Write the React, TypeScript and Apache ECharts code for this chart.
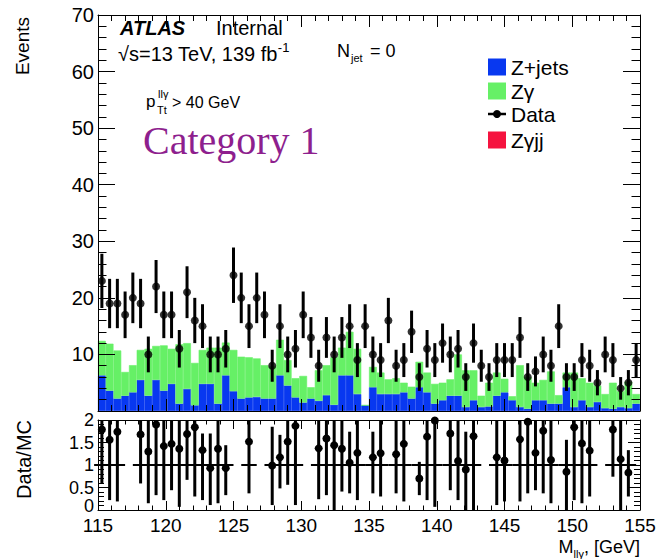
import React, { useEffect, useRef } from "react";
import * as echarts from "echarts";

// ---- axis range (GeV) ----
const X_MIN = 115;
const X_MAX = 155;
const xTickStep = 5;

// ---- upper panel: events per bin (70 bins) ----
const dataCounts = [
  23, 19, 19, 17, 20, 19, 10, 22, 17, 17,
  11, 21, 16, 15, 10, 10, 11, 24, 20, 15,
  20, 17, 8, 15, 10, 11, 17, 13, 8, 13,
  10, 13, 15, 9, 15, 10, 9, 16, 8, 9,
  14, 6, 11, 9, 12, 10, 11, 6, 12, 8,
  6, 9, 9, 9, 13, 6, 7, 10, 8, 15,
  6, 6, 9, 8, 5, 10, 9, 4, 5, 9,
];

const zjets = [
  6.3, 3.6, 2.2, 2.7, 3.3, 5.5, 2.7, 5.5, 3.6, 4.8,
  1.3, 3.9, 1.0, 4.8, 4.8, 1.3, 6.3, 3.5, 2.2, 2.4,
  2.5, 2.2, 2.2, 6.3, 4.5, 2.4, 1.5, 2.2, 1.8, 2.8,
  1.1, 6.3, 6.3, 3.0, 1.0, 4.2, 3.0, 3.0, 3.0, 3.3,
  2.2, 4.2, 3.3, 1.3, 1.9, 2.7, 2.7, 0.7, 1.9, 0.7,
  0.8, 2.7, 3.3, 1.9, 0.7, 0.4, 1.9, 1.9, 1.3, 1.3,
  4.2, 0.7, 1.9, 0.7, 1.6, 0.5, 0.4, 0.7, 0.5, 1.3,
];

const zgamma = [
  6.1, 8.3, 8.5, 4.2, 4.8, 5.3, 8.3, 6.0, 8.0, 6.2,
  10.5, 8.1, 7.5, 6.0, 6.4, 9.9, 5.8, 7.3, 7.4, 7.1,
  6.8, 5.9, 5.7, 6.3, 4.5, 3.4, 4.7, 2.0, 5.4, 5.3,
  8.4, 4.9, 7.7, 8.0, 0.0, 3.6, 3.8, 2.6, 2.8, 1.7,
  2.1, 4.5, 3.5, 3.5, 3.1, 2.9, 7.3, 6.5, 5.3, 2.0,
  4.2, 4.1, 2.4, 0.7, 7.4, 5.6, 3.1, 3.6, 5.7, 1.5,
  2.6, 6.1, 3.9, 4.3, 2.9, 2.5, 4.6, 2.8, 4.7, 1.7,
];

// ---- lower panel: Data/MC (null = outside the visible range) ----
const ratio = [
  1.79, 1.56, 1.74, null, null, 1.68, 1.30, 1.90, 1.42, 1.47,
  1.36, 1.69, 1.84, 1.33, 0.93, 1.36, 0.93, null, null, 1.52,
  null, null, 0.99, 1.17, 1.52, 1.87, null, null, 1.37, 1.59,
  1.44, 1.36, 1.05, 1.27, null, 1.17, 1.26, null, 1.24, 1.47,
  null, 0.70, 1.63, 1.99, null, 1.70, 1.09, 0.90, 1.64, null,
  null, 1.17, 1.10, null, 1.57, 1.96, 1.27, 1.76, 1.11, null,
  0.85, 1.84, 1.48, 1.32, null, null, 1.79, 1.13, 0.83, null,
];
const ratioLow = [
  0.59, 0.22, 0.19, null, null, 0.59, 0.15, 0.33, 0.22, 0.44,
  0.07, 0.67, 0.30, 0.22, 0.11, 0.15, 0.33, null, null, 0.37,
  null, null, 0.11, 0.48, 0.56, 0.11, null, null, 0.24, 0.33,
  0, 0.41, 0.37, 0.22, null, 0.37, 0.30, null, 0.37, 0.19,
  null, 0.33, 0.22, 0.07, null, 0.44, 0.22, 0, 0, null,
  null, 0.11, 0.19, null, 0.19, 0.37, 0.44, 0.37, 0.15, null,
  0, 0.22, 0.15, 0.30, null, null, 0.74, 0, 0.30, null,
];
const ratioHigh = [
  2, 2, 2, null, null, 2, 2, 2, 2, 2,
  2, 2, 2, 1.70, 1.70, 2, 1.44, null, null, 2,
  null, null, 1.85, 1.67, 2, 2, null, null, 2, 2,
  2, 2, 1.74, 2, null, 1.74, 2, null, 2, 2,
  null, 1.07, 2, 2, null, 2, 2, 1.74, 2, null,
  null, 2, 2, null, 2, 2, 2, 2, 2, null,
  1.56, 2, 2, 2, null, null, 2, 2, 1.33, null,
];

const legendNames = ["Z+jets", "Zγ", "Data", "Zγjj"];

const C_ZJETS = "#0838f0";
const C_ZGAMMA = "#66f066";
const C_ZGJJ = "#f5133f";
const C_PURPLE = "#8e1f8e";
const FONT = "Liberation Sans";

export default function App() {
  const ref = useRef<HTMLDivElement>(null);

  useEffect(() => {
    const chart = echarts.init(ref.current!, null, { renderer: "svg" });
    const n = dataCounts.length;
    const w = (X_MAX - X_MIN) / n;
    const centers = dataCounts.map((_, i) => X_MIN + (i + 0.5) * w);
    const centerLabels = centers.map((c) => c.toFixed(2));

    const tickStyle = { color: "#000", width: 1 };
    const xAxisDef = (grid: number, pos: string, labels: boolean, len: number) => ({
      type: "value",
      gridIndex: grid,
      position: pos,
      min: X_MIN,
      max: X_MAX,
      interval: xTickStep,
      axisLine: { show: true, onZero: false, lineStyle: { color: "#000", width: 1 } },
      axisTick: { show: true, inside: true, length: len, lineStyle: tickStyle },
      minorTick: { show: true, splitNumber: 5, length: len / 2, lineStyle: tickStyle },
      splitLine: { show: false },
      minorSplitLine: { show: false },
      axisLabel: {
        show: labels,
        fontFamily: FONT,
        fontSize: 19,
        color: "#000",
        margin: 6,
      },
      z: 10,
    });
    const yAxisDef = (
      grid: number,
      pos: string,
      labels: boolean,
      min: number,
      max: number,
      interval: number,
      len: number,
      fontSize: number,
      fmt?: (v: number) => string
    ) => ({
      type: "value",
      gridIndex: grid,
      position: pos,
      min,
      max,
      interval,
      axisLine: { show: true, onZero: false, lineStyle: { color: "#000", width: 1 } },
      axisTick: { show: true, inside: true, length: len, lineStyle: tickStyle },
      minorTick: { show: true, splitNumber: 5, length: len / 2, lineStyle: tickStyle },
      splitLine: { show: false },
      minorSplitLine: { show: false },
      axisLabel: {
        show: labels,
        fontFamily: FONT,
        fontSize,
        color: "#000",
        margin: 4,
        formatter: fmt,
      },
      z: 10,
    });

    const dataErr = centers.map((c, i) => [
      c,
      dataCounts[i],
      dataCounts[i] - Math.sqrt(dataCounts[i]),
      dataCounts[i] + Math.sqrt(dataCounts[i]),
    ]);
    const ratioItems: number[][] = [];
    centers.forEach((c, i) => {
      if (ratio[i] !== null) {
        ratioItems.push([c, ratio[i] as number, ratioLow[i] as number, ratioHigh[i] as number]);
      }
    });

    const txt = (x: number, y: number, text: string, size: number, extra: any = {}) => ({
      type: "text",
      x,
      y,
      z: 100,
      ...(extra.rotation !== undefined ? { rotation: extra.rotation } : {}),
      style: {
        text,
        fill: extra.fill || "#000",
        fontFamily: extra.fontFamily || FONT,
        fontSize: size,
        fontWeight: extra.fontWeight || "normal",
        fontStyle: extra.fontStyle || "normal",
        align: extra.align || "left",
        textAlign: extra.align || "left",
        verticalAlign: "middle",
        textVerticalAlign: "middle",
        rich: extra.rich,
      },
    });

    const legendRows = [67, 91, 114, 140];
    const legendColors = [C_ZJETS, C_ZGAMMA, null, C_ZGJJ];
    const legendGraphics: any[] = [];
    legendNames.forEach((name, i) => {
      const cy = legendRows[i];
      const col = legendColors[i];
      if (col) {
        legendGraphics.push({
          type: "rect",
          z: 100,
          shape: { x: 488, y: cy - 8.5, width: 18, height: 17 },
          style: { fill: col },
        });
      } else {
        legendGraphics.push({
          type: "line",
          z: 100,
          shape: { x1: 488, y1: cy, x2: 506, y2: cy },
          style: { stroke: "#000", lineWidth: 2.5 },
        });
        legendGraphics.push({
          type: "circle",
          z: 101,
          shape: { cx: 497, cy, r: 4 },
          style: { fill: "#000" },
        });
      }
      legendGraphics.push(txt(511, cy, name, 21));
    });

    const option: any = {
      animation: false,
      backgroundColor: "#fff",
      grid: [
        { left: 98, top: 15, width: 542, height: 396 },
        { left: 98, top: 420, width: 542, height: 90 },
      ],
      xAxis: [
        xAxisDef(0, "bottom", false, 12),
        xAxisDef(0, "top", false, 12),
        xAxisDef(1, "bottom", true, 9),
        xAxisDef(1, "top", false, 9),
        {
          type: "category",
          gridIndex: 0,
          data: centerLabels,
          boundaryGap: true,
          show: false,
        },
      ],
      yAxis: [
        yAxisDef(0, "left", true, 0, 70, 10, 17, 20, (v: number) => (v === 0 ? "" : String(v))),
        yAxisDef(0, "right", false, 0, 70, 10, 17, 20),
        yAxisDef(1, "left", true, 0, 2, 0.5, 12, 18, (v: number) => (v === 0 ? "" : String(v))),
        yAxisDef(1, "right", false, 0, 2, 0.5, 12, 18),
      ],
      series: [
        {
          name: "Z+jets",
          type: "bar",
          xAxisIndex: 4,
          yAxisIndex: 0,
          stack: "mc",
          data: zjets,
          barCategoryGap: "0%",
          itemStyle: { color: C_ZJETS, borderColor: C_ZJETS, borderWidth: 0.6 },
          silent: true,
          z: 1,
        },
        {
          name: "Zγ",
          type: "bar",
          xAxisIndex: 4,
          yAxisIndex: 0,
          stack: "mc",
          data: zgamma,
          barCategoryGap: "0%",
          itemStyle: { color: C_ZGAMMA, borderColor: C_ZGAMMA, borderWidth: 0.6 },
          silent: true,
          z: 1,
        },
        {
          name: "DataErr",
          type: "custom",
          xAxisIndex: 0,
          yAxisIndex: 0,
          data: dataErr,
          encode: { x: 0, y: 1 },
          z: 3,
          renderItem: (params: any, api: any) => {
            const x = api.value(0);
            const p1 = api.coord([x, api.value(2)]);
            const p2 = api.coord([x, api.value(3)]);
            return {
              type: "line",
              shape: { x1: p1[0], y1: p1[1], x2: p2[0], y2: p2[1] },
              style: { stroke: "#000", lineWidth: 3 },
            };
          },
        },
        {
          name: "Data",
          type: "scatter",
          xAxisIndex: 0,
          yAxisIndex: 0,
          data: centers.map((c, i) => [c, dataCounts[i]]),
          symbol: "circle",
          symbolSize: 8,
          itemStyle: { color: "#000" },
          z: 4,
        },
        {
          name: "Ratio",
          type: "custom",
          xAxisIndex: 2,
          yAxisIndex: 2,
          data: ratioItems,
          encode: { x: 0, y: 1 },
          z: 4,
          renderItem: (params: any, api: any) => {
            const x = api.value(0);
            const pl = api.coord([x - w, 1]);
            const pr = api.coord([x + w, 1]);
            const pc = api.coord([x, api.value(1)]);
            const plo = api.coord([x, api.value(2)]);
            const phi = api.coord([x, api.value(3)]);
            return {
              type: "group",
              children: [
                {
                  type: "line",
                  shape: { x1: pl[0], y1: pl[1], x2: pr[0], y2: pr[1] },
                  style: { stroke: "#000", lineWidth: 2 },
                },
                {
                  type: "line",
                  shape: { x1: plo[0], y1: plo[1], x2: phi[0], y2: phi[1] },
                  style: { stroke: "#000", lineWidth: 3 },
                },
                {
                  type: "circle",
                  shape: { cx: pc[0], cy: pc[1], r: 4 },
                  style: { fill: "#000" },
                },
              ],
            };
          },
        },
      ],
      graphic: [
        txt(22, 17, "Events", 19, { rotation: Math.PI / 2, align: "right" }),
        txt(24, 420, "Data/MC", 20, { rotation: Math.PI / 2, align: "right" }),
        txt(94, 506, "0", 18, { align: "right" }),
        txt(640, 547, "{m|M}{s|llγ}{m|, [GeV]}", 18, {
          align: "right",
          rich: {
            m: { fontFamily: FONT, fontSize: 18, lineHeight: 24, fill: "#000" },
            s: { fontFamily: FONT, fontSize: 11, lineHeight: 11, verticalAlign: "bottom", fill: "#000" },
          },
        }),
        txt(120, 28, "ATLAS", 20, { fontWeight: "bold", fontStyle: "italic" }),
        txt(216, 28, "Internal", 20),
        txt(118, 54, "{m|√s=13 TeV, 139 fb}{p|-1}", 20, {
          rich: {
            m: { fontFamily: FONT, fontSize: 20, lineHeight: 26, fill: "#000" },
            p: { fontFamily: FONT, fontSize: 13, lineHeight: 13, verticalAlign: "top", fill: "#000" },
          },
        }),
        txt(337, 51, "N", 18),
        txt(351, 58, "jet", 11),
        txt(370, 51, "= 0", 18),
        txt(146, 101, "p", 17),
        txt(158, 94, "llγ", 11),
        txt(157, 110, "Tt", 11),
        txt(172, 102, "> 40 GeV", 16),
        txt(143, 140, "Category 1", 40, { fontFamily: "Liberation Serif", fill: C_PURPLE }),
        ...legendGraphics,
      ],
    };

    chart.setOption(option);
    return () => chart.dispose();
  }, []);

  return (
    <div
      ref={ref}
      style={{ position: "absolute", left: 0, top: 0, width: 659, height: 559 }}
    />
  );
}
